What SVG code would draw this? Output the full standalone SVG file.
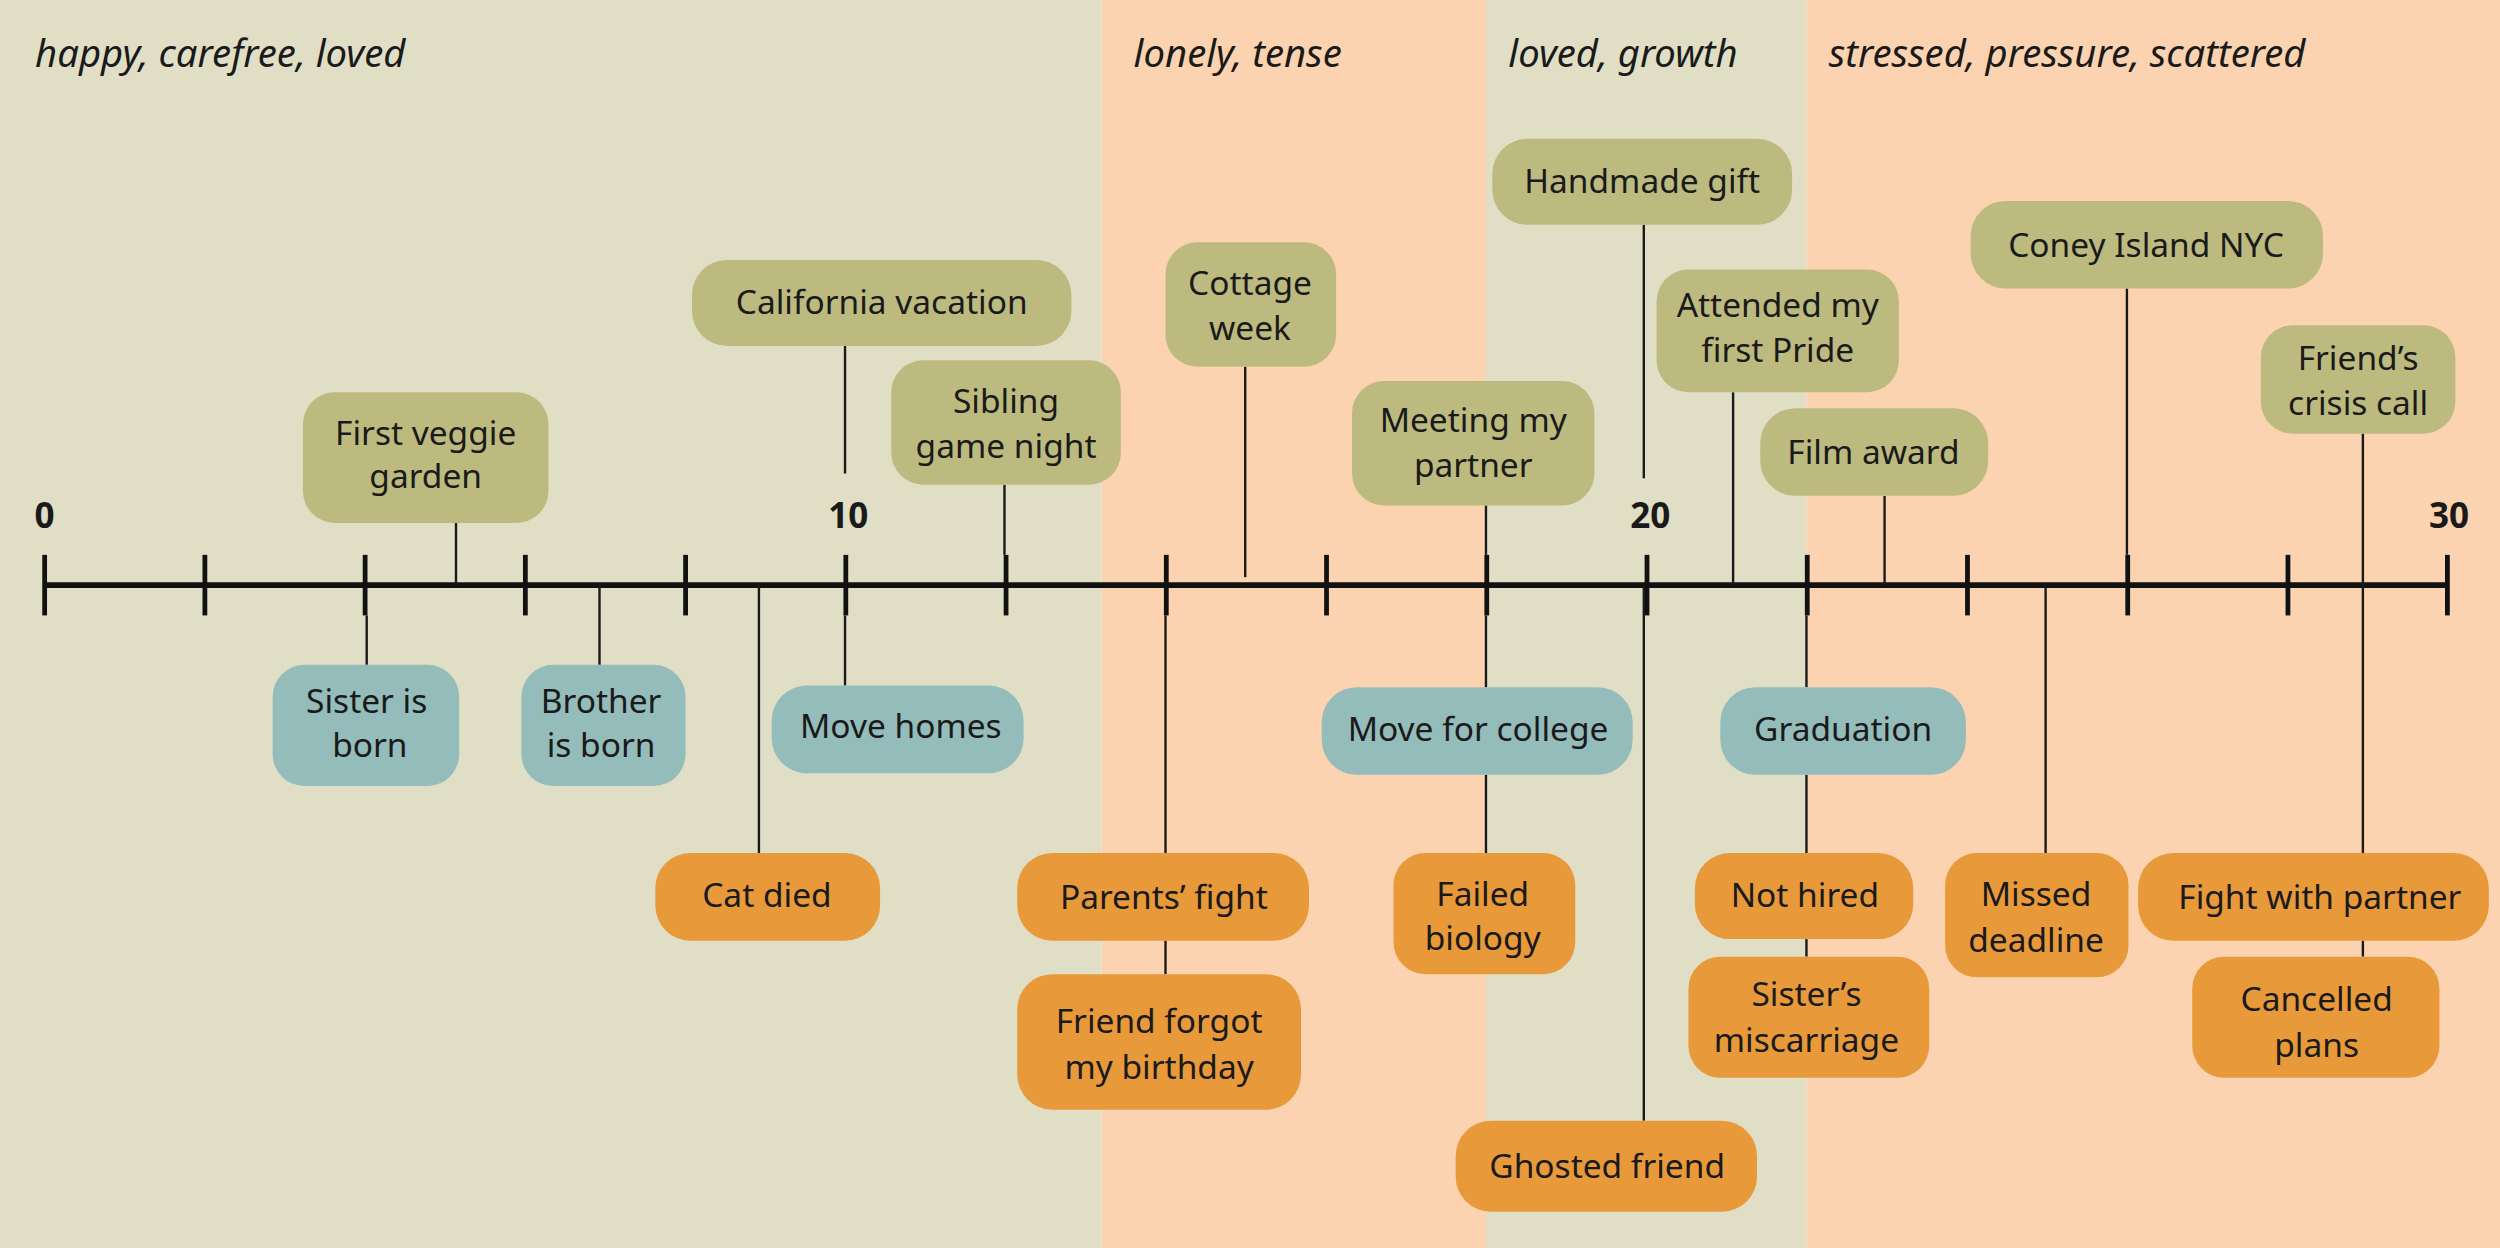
<svg xmlns="http://www.w3.org/2000/svg" width="2500" height="1248" viewBox="0 0 2500 1248">
<style>
.g{fill:#bcba7f}.t{fill:#93bcbb}.o{fill:#e8993a}
text{font-family:"Noto Sans","Liberation Sans",sans-serif;font-size:21px;fill:#1a1a1a;text-anchor:middle}
.m{font-style:italic;font-size:24px;text-anchor:start}
.n{font-weight:bold;font-size:22px}
.c line{stroke:#1a1a1a;stroke-width:1.5}
.ax{stroke:#111;stroke-width:3.5}
.tk{stroke:#111;stroke-width:3}
</style>
<g transform="scale(1.59439)">
<g id="bands">
<rect x="0" y="0" width="691" height="783" fill="#e0dfc5"/>
<rect x="691" y="0" width="241" height="783" fill="#fbd3b0"/>
<rect x="932" y="0" width="201" height="783" fill="#e0dfc5"/>
<rect x="1133" y="0" width="435" height="783" fill="#fbd3b0"/>
</g>
<g id="moods">
<text class="m" x="22" y="42">happy, carefree, loved</text>
<text class="m" x="711" y="42">lonely, tense</text>
<text class="m" x="946" y="42">loved, growth</text>
<text class="m" x="1147" y="42">stressed, pressure, scattered</text>
</g>
<g id="axis">
<line class="ax" x1="28" y1="367" x2="1535" y2="367"/>
<g class="tk">
<line x1="28" y1="348" x2="28" y2="386"/><line x1="128.5" y1="348" x2="128.5" y2="386"/><line x1="229" y1="348" x2="229" y2="386"/><line x1="329.5" y1="348" x2="329.5" y2="386"/><line x1="430" y1="348" x2="430" y2="386"/><line x1="530.5" y1="348" x2="530.5" y2="386"/><line x1="631" y1="348" x2="631" y2="386"/><line x1="731.5" y1="348" x2="731.5" y2="386"/><line x1="832" y1="348" x2="832" y2="386"/><line x1="932.5" y1="348" x2="932.5" y2="386"/><line x1="1033" y1="348" x2="1033" y2="386"/><line x1="1133.5" y1="348" x2="1133.5" y2="386"/><line x1="1234" y1="348" x2="1234" y2="386"/><line x1="1334.5" y1="348" x2="1334.5" y2="386"/><line x1="1435" y1="348" x2="1435" y2="386"/><line x1="1535" y1="348" x2="1535" y2="386"/>
</g>
<text class="n" x="28" y="331">0</text><text class="n" x="532" y="331">10</text><text class="n" x="1035" y="331">20</text><text class="n" x="1536" y="331">30</text>
</g>
<g class="c" id="connectors">
<line x1="286" y1="328" x2="286" y2="367"/><line x1="530" y1="217" x2="530" y2="297"/><line x1="630" y1="304" x2="630" y2="348"/><line x1="781" y1="230" x2="781" y2="362"/><line x1="932" y1="317" x2="932" y2="348"/><line x1="1031" y1="141" x2="1031" y2="300"/><line x1="1087" y1="246" x2="1087" y2="367"/><line x1="1182" y1="311" x2="1182" y2="367"/><line x1="1334" y1="181" x2="1334" y2="348"/><line x1="1482" y1="272" x2="1482" y2="367"/>
<line x1="230" y1="386" x2="230" y2="417"/><line x1="376" y1="367" x2="376" y2="417"/><line x1="530" y1="386" x2="530" y2="430"/><line x1="476" y1="367" x2="476" y2="535"/><line x1="731" y1="386" x2="731" y2="535"/><line x1="731" y1="590" x2="731" y2="611"/><line x1="932" y1="386" x2="932" y2="431"/><line x1="932" y1="486" x2="932" y2="535"/><line x1="1031" y1="367" x2="1031" y2="703"/><line x1="1133" y1="386" x2="1133" y2="431"/><line x1="1133" y1="486" x2="1133" y2="535"/><line x1="1133" y1="589" x2="1133" y2="600"/><line x1="1283" y1="367" x2="1283" y2="535"/><line x1="1482" y1="367" x2="1482" y2="535"/><line x1="1482" y1="590" x2="1482" y2="600"/>
</g>
<g id="n1"><rect class="g" x="190" y="246" width="154" height="82" rx="20"/><text x="267" y="279">First veggie</text><text x="267" y="306">garden</text></g>
<g id="n2"><rect class="g" x="434" y="163" width="238" height="54" rx="22"/><text x="553" y="197">California vacation</text></g>
<g id="n3"><rect class="g" x="559" y="226" width="144" height="78" rx="20"/><text x="631" y="259">Sibling</text><text x="631" y="287">game night</text></g>
<g id="n4"><rect class="g" x="731" y="152" width="107" height="78" rx="20"/><text x="784" y="185">Cottage</text><text x="784" y="213">week</text></g>
<g id="n5"><rect class="g" x="848" y="239" width="152" height="78" rx="20"/><text x="924" y="271">Meeting my</text><text x="924" y="299">partner</text></g>
<g id="n6"><rect class="g" x="936" y="87" width="188" height="54" rx="22"/><text x="1030" y="121">Handmade gift</text></g>
<g id="n7"><rect class="g" x="1039" y="169" width="152" height="77" rx="20"/><text x="1115" y="199">Attended my</text><text x="1115" y="227">first Pride</text></g>
<g id="n8"><rect class="g" x="1104" y="256" width="143" height="55" rx="22"/><text x="1175" y="291">Film award</text></g>
<g id="n9"><rect class="g" x="1236" y="126" width="221" height="55" rx="22"/><text x="1346" y="161">Coney Island NYC</text></g>
<g id="n10"><rect class="g" x="1418" y="204" width="122" height="68" rx="20"/><text x="1479" y="232">Friend’s</text><text x="1479" y="260">crisis call</text></g>
<g id="n11"><rect class="t" x="171" y="417" width="117" height="76" rx="20"/><text x="230" y="447">Sister is</text><text x="232" y="475">born</text></g>
<g id="n12"><rect class="t" x="327" y="417" width="103" height="76" rx="20"/><text x="377" y="447">Brother</text><text x="377" y="475">is born</text></g>
<g id="n13"><rect class="t" x="484" y="430" width="158" height="55" rx="22"/><text x="565" y="463">Move homes</text></g>
<g id="n14"><rect class="o" x="411" y="535" width="141" height="55" rx="22"/><text x="481" y="569">Cat died</text></g>
<g id="n15"><rect class="o" x="638" y="535" width="183" height="55" rx="22"/><text x="730" y="570">Parents’ fight</text></g>
<g id="n16"><rect class="o" x="638" y="611" width="178" height="85" rx="22"/><text x="727" y="648">Friend forgot</text><text x="727" y="677">my birthday</text></g>
<g id="n17"><rect class="t" x="829" y="431" width="195" height="55" rx="22"/><text x="927" y="465">Move for college</text></g>
<g id="n18"><rect class="o" x="874" y="535" width="114" height="76" rx="20"/><text x="930" y="568">Failed</text><text x="930" y="596">biology</text></g>
<g id="n19"><rect class="o" x="913" y="703" width="189" height="57" rx="22"/><text x="1008" y="739">Ghosted friend</text></g>
<g id="n20"><rect class="t" x="1079" y="431" width="154" height="55" rx="22"/><text x="1156" y="465">Graduation</text></g>
<g id="n21"><rect class="o" x="1063" y="535" width="137" height="54" rx="22"/><text x="1132" y="569">Not hired</text></g>
<g id="n22"><rect class="o" x="1059" y="600" width="151" height="76" rx="20"/><text x="1133" y="631">Sister’s</text><text x="1133" y="660">miscarriage</text></g>
<g id="n23"><rect class="o" x="1220" y="535" width="115" height="78" rx="20"/><text x="1277" y="568">Missed</text><text x="1277" y="597">deadline</text></g>
<g id="n24"><rect class="o" x="1341" y="535" width="220" height="55" rx="22"/><text x="1455" y="570">Fight with partner</text></g>
<g id="n25"><rect class="o" x="1375" y="600" width="155" height="76" rx="20"/><text x="1453" y="634">Cancelled</text><text x="1453" y="663">plans</text></g>
</g>
</svg>
